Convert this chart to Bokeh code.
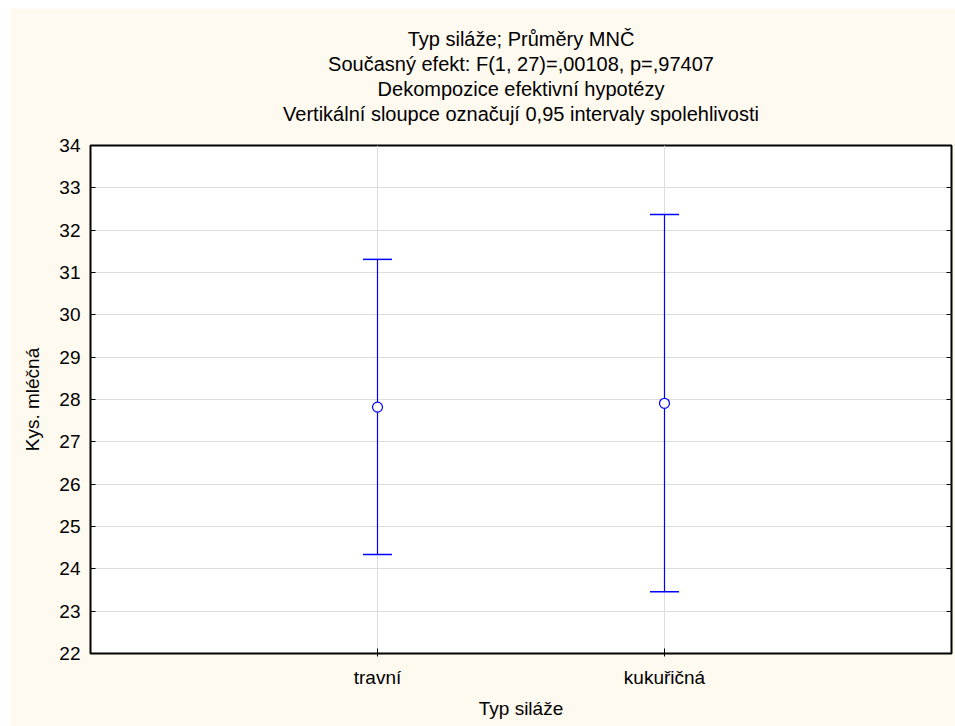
from bokeh.plotting import figure
from bokeh.models import LinearAxis, Title, FixedTicker, FactorRange
from bokeh.embed import file_html
from bokeh.resources import INLINE

# ---- data ----
categories = ["travní", "kukuřičná"]
means = [27.82, 27.91]
upper = [31.31, 32.37]
lower = [24.34, 23.46]
y_ticks = [22, 23, 24, 25, 26, 27, 28, 29, 30, 31, 32, 33, 34]
title_lines = [
    "Typ siláže; Průměry MNČ",
    "Současný efekt: F(1, 27)=,00108, p=,97407",
    "Dekompozice efektivní hypotézy",
    "Vertikální sloupce označují 0,95 intervaly spolehlivosti",
]
x_label = "Typ siláže"
y_label = "Kys. mléčná"

FONT = "Liberation Sans"
CREAM = "#FFFAF0"
BLUE = "#0000FF"
GRID = "#DCDCDC"
TFS = "20px"
LFS = "19px"

p = figure(
    x_range=FactorRange(*categories, range_padding=0.5),
    y_range=(22, 34),
    frame_width=861, frame_height=508,
    min_border_left=81, min_border_right=4,
    min_border_top=137, min_border_bottom=73,
    output_backend="svg", toolbar_location=None,
    background_fill_color="white", border_fill_color=CREAM,
    margin=(8, 0, 0, 9),
)
p.title.visible = False

# spacer between the plot frame and the title block
p.add_layout(Title(text=" ", text_font_size="1px", standoff=17), "above")
# title lines (added from the one closest to the plot outward)
for text in reversed(title_lines):
    t = Title(text=text, align="center", text_font=FONT, text_font_size=TFS,
              text_font_style="normal", text_color="black", standoff=1)
    p.add_layout(t, "above")

p.outline_line_color = "black"
p.outline_line_width = 2

# axes
yax = p.yaxis[0]
yax.ticker = FixedTicker(ticks=y_ticks)
yax.axis_line_color = None
yax.major_tick_in = 5
yax.major_tick_out = 0
yax.minor_tick_line_color = None
yax.major_label_text_font = FONT
yax.major_label_text_font_size = LFS
yax.major_label_text_color = "black"
yax.major_label_standoff = 10
yax.axis_label = y_label
yax.axis_label_text_font = FONT
yax.axis_label_text_font_size = LFS
yax.axis_label_text_font_style = "normal"
yax.axis_label_text_color = "black"
yax.axis_label_standoff = 13

xax = p.xaxis[0]
xax.axis_line_color = None
xax.major_tick_in = 5
xax.major_tick_out = 3
xax.major_label_text_font = FONT
xax.major_label_text_font_size = LFS
xax.major_label_text_color = "black"
xax.major_label_standoff = 10
xax.axis_label = x_label
xax.axis_label_text_font = FONT
xax.axis_label_text_font_size = LFS
xax.axis_label_text_font_style = "normal"
xax.axis_label_text_color = "black"
xax.axis_label_standoff = 7

rax = LinearAxis(ticker=FixedTicker(ticks=y_ticks), major_label_text_font_size="0px",
                 axis_line_color=None, major_tick_in=5, major_tick_out=0,
                 minor_tick_line_color=None)
p.add_layout(rax, "right")

p.xgrid.grid_line_color = GRID
p.ygrid.grid_line_color = GRID
p.ygrid.ticker = FixedTicker(ticks=y_ticks)

# error bars
p.segment(x0=categories, y0=lower, x1=categories, y1=upper, line_color=BLUE, line_width=1.2)
p.scatter(x=categories, y=upper, marker="dash", size=29, line_color=BLUE, line_width=1.5)
p.scatter(x=categories, y=lower, marker="dash", size=29, line_color=BLUE, line_width=1.5)
p.scatter(x=categories, y=means, marker="circle", size=10, line_color=BLUE,
          fill_color="white", line_width=1.2)

open("out.html", "w").write(file_html(p, INLINE))
